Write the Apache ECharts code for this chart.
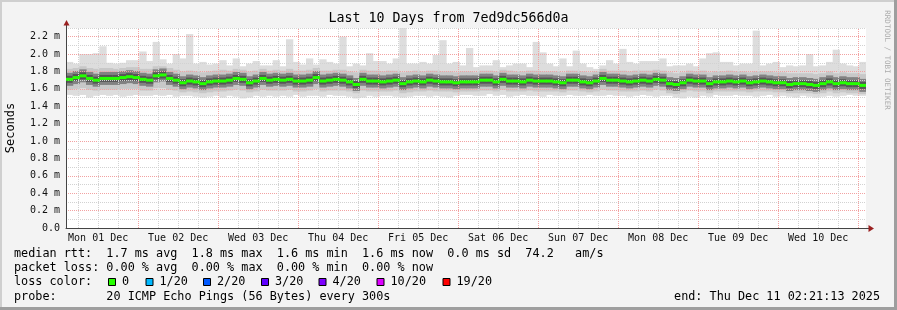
<!DOCTYPE html>
<html>
<head>
<meta charset="utf-8">
<script src="https://cdn.jsdelivr.net/npm/echarts@6/dist/echarts.min.js"></script>
<style>
html, body { margin: 0; padding: 0; background: #f3f3f3; }
#chart { width: 897px; height: 310px; }
</style>
</head>
<body>
<div id="chart"></div>
<script>
// time axis is in hours since Mon 01 Dec 00:00, one value every 2 hours
var startHour = 2 + 21 / 60 + 13 / 3600;   // Dec 01 02:21:13
var stepHours = 2;

var dayLabels = ['Mon 01 Dec', 'Tue 02 Dec', 'Wed 03 Dec', 'Thu 04 Dec', 'Fri 05 Dec',
                 'Sat 06 Dec', 'Sun 07 Dec', 'Mon 08 Dec', 'Tue 09 Dec', 'Wed 10 Dec'];

// median rtt (ms)
var medianRtt = [
 1.71,1.73,1.75,1.72,1.70,1.72,1.72,1.72,1.73,1.74,
 1.73,1.71,1.70,1.75,1.76,1.72,1.70,1.67,1.69,1.68,
 1.66,1.68,1.69,1.69,1.70,1.72,1.71,1.67,1.69,1.72,
 1.70,1.71,1.70,1.71,1.69,1.69,1.70,1.73,1.69,1.70,
 1.71,1.70,1.68,1.65,1.71,1.69,1.69,1.68,1.69,1.70,
 1.66,1.68,1.69,1.68,1.70,1.69,1.68,1.68,1.67,1.68,
 1.68,1.68,1.70,1.70,1.68,1.71,1.69,1.69,1.68,1.70,
 1.69,1.69,1.69,1.68,1.67,1.70,1.70,1.68,1.67,1.69,
 1.72,1.70,1.70,1.69,1.68,1.69,1.70,1.69,1.71,1.70,
 1.66,1.65,1.67,1.70,1.69,1.69,1.66,1.68,1.68,1.69,
 1.68,1.69,1.67,1.68,1.69,1.68,1.67,1.67,1.65,1.66,
 1.66,1.65,1.64,1.66,1.68,1.66,1.67,1.66,1.66,1.64];

// smoke: slowest ping
var smokeMax = [
 1.91,1.89,2.00,2.00,2.01,2.09,1.90,1.89,1.90,1.93,
 1.93,2.03,1.92,2.14,1.94,1.89,2.00,1.95,2.23,1.89,
 1.91,1.88,1.89,1.93,1.87,1.95,1.86,1.89,1.92,1.87,
 1.87,1.93,1.86,2.17,1.91,1.88,1.95,1.88,1.94,1.91,
 1.89,2.20,1.86,1.89,1.87,2.01,1.92,1.92,1.89,1.95,
 2.31,1.89,1.89,1.91,1.89,1.99,2.16,1.89,1.91,1.87,
 2.07,1.85,1.87,1.87,1.93,1.85,1.87,1.89,1.89,1.85,
 2.14,2.02,1.89,1.86,1.95,1.86,2.04,1.89,1.85,1.83,
 1.87,1.93,1.89,2.06,1.91,1.89,1.92,1.92,1.92,1.95,
 1.86,1.87,1.87,1.89,1.86,1.95,2.01,2.02,1.91,1.91,
 1.87,1.89,1.89,2.27,1.87,1.89,1.91,1.85,1.87,1.86,
 1.87,2.00,1.86,1.87,1.91,2.05,1.89,1.87,1.86,1.91];

// smoke: fastest ping
var smokeMin = [
 1.53,1.52,1.53,1.50,1.52,1.53,1.52,1.53,1.51,1.52,
 1.53,1.52,1.52,1.53,1.52,1.53,1.51,1.52,1.52,1.51,
 1.50,1.51,1.52,1.50,1.52,1.51,1.49,1.50,1.52,1.51,
 1.52,1.51,1.52,1.51,1.53,1.51,1.52,1.52,1.51,1.53,
 1.52,1.52,1.51,1.49,1.50,1.52,1.51,1.52,1.52,1.51,
 1.50,1.51,1.52,1.52,1.51,1.52,1.51,1.50,1.52,1.53,
 1.53,1.52,1.52,1.54,1.52,1.53,1.51,1.52,1.53,1.52,
 1.52,1.51,1.53,1.52,1.52,1.53,1.52,1.52,1.53,1.52,
 1.52,1.53,1.52,1.52,1.51,1.52,1.53,1.52,1.51,1.52,
 1.52,1.50,1.49,1.51,1.50,1.52,1.51,1.53,1.52,1.52,
 1.53,1.52,1.52,1.51,1.52,1.53,1.51,1.52,1.51,1.50,
 1.52,1.51,1.50,1.51,1.52,1.51,1.52,1.53,1.52,1.52];

// smoke: outer middle band
var smokeHi2 = [
 1.83,1.84,1.86,1.84,1.83,1.84,1.84,1.83,1.84,1.85,
 1.85,1.83,1.83,1.86,1.86,1.84,1.82,1.80,1.81,1.80,
 1.79,1.80,1.81,1.82,1.81,1.83,1.82,1.80,1.81,1.83,
 1.81,1.82,1.81,1.83,1.81,1.81,1.82,1.84,1.81,1.81,
 1.82,1.82,1.80,1.79,1.82,1.81,1.81,1.80,1.81,1.81,
 1.79,1.80,1.81,1.80,1.81,1.81,1.80,1.80,1.79,1.80,
 1.80,1.79,1.81,1.81,1.80,1.82,1.81,1.80,1.80,1.81,
 1.81,1.80,1.80,1.80,1.79,1.81,1.81,1.80,1.79,1.80,
 1.83,1.81,1.81,1.81,1.80,1.81,1.81,1.81,1.82,1.81,
 1.79,1.78,1.79,1.81,1.80,1.81,1.79,1.80,1.80,1.81,
 1.80,1.80,1.79,1.80,1.80,1.80,1.79,1.79,1.78,1.78,
 1.78,1.78,1.77,1.78,1.80,1.78,1.79,1.78,1.78,1.77];
var smokeLo2 = [
 1.59,1.60,1.61,1.59,1.58,1.59,1.59,1.59,1.60,1.60,
 1.60,1.58,1.58,1.61,1.61,1.59,1.58,1.56,1.57,1.56,
 1.55,1.56,1.57,1.57,1.58,1.59,1.58,1.56,1.57,1.59,
 1.58,1.58,1.58,1.59,1.57,1.57,1.58,1.60,1.57,1.58,
 1.58,1.58,1.57,1.55,1.58,1.57,1.57,1.57,1.57,1.58,
 1.55,1.56,1.57,1.57,1.58,1.57,1.57,1.57,1.56,1.57,
 1.57,1.57,1.58,1.58,1.57,1.59,1.57,1.57,1.57,1.58,
 1.57,1.57,1.57,1.57,1.56,1.58,1.58,1.57,1.56,1.57,
 1.59,1.58,1.58,1.57,1.57,1.57,1.58,1.57,1.59,1.58,
 1.55,1.54,1.56,1.58,1.57,1.57,1.55,1.57,1.57,1.57,
 1.57,1.57,1.56,1.57,1.57,1.57,1.56,1.56,1.55,1.55,
 1.55,1.55,1.54,1.55,1.57,1.55,1.56,1.55,1.55,1.54];

// smoke: inner band
var smokeHi3 = [
 1.76,1.78,1.80,1.77,1.75,1.77,1.77,1.77,1.78,1.79,
 1.78,1.76,1.75,1.80,1.81,1.77,1.75,1.72,1.74,1.73,
 1.71,1.73,1.74,1.74,1.75,1.77,1.76,1.72,1.74,1.77,
 1.75,1.76,1.75,1.76,1.74,1.74,1.75,1.78,1.74,1.75,
 1.76,1.75,1.73,1.70,1.76,1.74,1.74,1.73,1.74,1.75,
 1.71,1.73,1.74,1.73,1.75,1.74,1.73,1.73,1.72,1.73,
 1.73,1.73,1.75,1.75,1.73,1.76,1.74,1.74,1.73,1.75,
 1.74,1.74,1.74,1.73,1.72,1.75,1.75,1.73,1.72,1.74,
 1.77,1.75,1.75,1.74,1.73,1.74,1.75,1.74,1.76,1.75,
 1.71,1.70,1.72,1.75,1.74,1.74,1.71,1.73,1.73,1.74,
 1.73,1.74,1.72,1.73,1.74,1.73,1.72,1.72,1.70,1.71,
 1.71,1.70,1.69,1.71,1.73,1.71,1.72,1.71,1.71,1.69];
var smokeLo3 = [
 1.65,1.67,1.69,1.66,1.64,1.66,1.66,1.66,1.67,1.68,
 1.67,1.65,1.64,1.69,1.70,1.66,1.64,1.61,1.63,1.62,
 1.60,1.62,1.63,1.63,1.64,1.66,1.65,1.61,1.63,1.66,
 1.64,1.65,1.64,1.65,1.63,1.63,1.64,1.67,1.63,1.64,
 1.65,1.64,1.62,1.59,1.65,1.63,1.63,1.62,1.63,1.64,
 1.60,1.62,1.63,1.62,1.64,1.63,1.62,1.62,1.61,1.62,
 1.62,1.62,1.64,1.64,1.62,1.65,1.63,1.63,1.62,1.64,
 1.63,1.63,1.63,1.62,1.61,1.64,1.64,1.62,1.61,1.63,
 1.66,1.64,1.64,1.63,1.62,1.63,1.64,1.63,1.65,1.64,
 1.60,1.59,1.61,1.64,1.63,1.63,1.60,1.62,1.62,1.63,
 1.62,1.63,1.61,1.62,1.63,1.62,1.61,1.61,1.59,1.60,
 1.60,1.59,1.58,1.60,1.62,1.60,1.61,1.60,1.60,1.58];

var lossLabels = ['0', '1/20', '2/20', '3/20', '4/20', '10/20', '19/20'];
var lossColors = ['#26ff00', '#00b8ff', '#0059ff', '#5e00ff', '#7e00ff', '#dd00ff', '#ff0000'];

var MONO = '"DejaVu Sans Mono", monospace';
var LEGEND_FONT = '11.8px ' + MONO;

function stepData(lo, hi) {
    var out = [];
    for (var i = 0; i < lo.length; i++) {
        var t = startHour + i * stepHours;
        out.push([t, t + stepHours, lo[i], hi ? hi[i] : lo[i]]);
    }
    return out;
}

function bandRender(color) {
    return function (params, api) {
        var a = api.coord([api.value(0), api.value(3)]);
        var b = api.coord([api.value(1), api.value(2)]);
        return {
            type: 'rect',
            shape: { x: a[0], y: a[1], width: b[0] - a[0] + 0.6, height: b[1] - a[1] },
            style: { fill: color }
        };
    };
}

function medianRender(layers) {
    return function (params, api) {
        var a = api.coord([api.value(0), api.value(2)]);
        var b = api.coord([api.value(1), api.value(2)]);
        var w = b[0] - a[0] + 0.6;
        var kids = [];
        for (var k = 0; k < layers.length; k++) {
            kids.push({
                type: 'rect',
                shape: { x: a[0], y: a[1] - layers[k][0] / 2, width: w, height: layers[k][0] },
                style: { fill: layers[k][1] }
            });
        }
        return { type: 'group', children: kids };
    };
}

function bandSeries(lo, hi, color) {
    return {
        type: 'custom', clip: true, z: 2, silent: true,
        encode: { x: [0, 1], y: [2, 3] },
        renderItem: bandRender(color),
        data: stepData(lo, hi)
    };
}

// grid line positions (hours)
var majorLines = [], minorLines = [], labelHours = [];
for (var h = 6; h < startHour + 240; h += 6) {
    if (h < startHour) continue;
    if (h % 24 === 0) majorLines.push({ xAxis: h });
    else minorLines.push({ xAxis: h });
}
for (var d = 0; d < dayLabels.length; d++) labelHours.push(12 + 24 * d);

function gridLineSeries(lines, color) {
    return {
        type: 'line', data: [], silent: true,
        markLine: {
            silent: true, symbol: ['none', 'none'], label: { show: false }, z: 5,
            lineStyle: { type: 'dotted', color: color, width: 1 },
            emphasis: { disabled: true },
            data: lines
        }
    };
}

var lossGraphics = [];
var boxX = [108, 145.5, 203, 261, 318.5, 376.5, 442.5];
for (var j = 0; j < lossLabels.length; j++) {
    lossGraphics.push({
        type: 'rect', shape: { x: boxX[j] + 0.5, y: 278.5, width: 7, height: 7 },
        style: { fill: lossColors[j], stroke: '#000', lineWidth: 1 }
    });
    lossGraphics.push({
        type: 'text', x: boxX[j] + 14, y: 282,
        style: { text: lossLabels[j], font: LEGEND_FONT, fill: '#000', align: 'left', verticalAlign: 'middle' }
    });
}

function legendLine(txt, y) {
    return { type: 'text', x: 14, y: y,
        style: { text: txt, font: LEGEND_FONT, fill: '#000', align: 'left', verticalAlign: 'middle' } };
}

var myChart = echarts.init(document.getElementById('chart'));
var option = {
    animation: false,
    backgroundColor: '#f3f3f3',
    grid: { left: 66, top: 28, width: 800, height: 200, show: true, backgroundColor: '#ffffff', borderWidth: 0 },
    xAxis: {
        type: 'value', min: startHour, max: startHour + 240, z: 6,
        axisLine: { show: true, lineStyle: { color: '#444' } },
        axisTick: { show: false },
        splitLine: { show: false },
        axisLabel: {
            customValues: labelHours,
            margin: 5,
            fontFamily: MONO, fontSize: 10, color: '#111',
            formatter: function (v) { return dayLabels[Math.round((v - 12) / 24)]; }
        }
    },
    yAxis: [{
        type: 'value', min: 0, max: 2.3, interval: 0.2, z: 4,
        axisLine: { show: true, lineStyle: { color: '#444' } },
        axisTick: { show: false },
        splitLine: { show: true, showMinLine: false, showMaxLine: false,
            lineStyle: { type: 'dotted', color: '#f2a2a2' } },
        axisLabel: {
            showMaxLabel: false, margin: 6,
            fontFamily: MONO, fontSize: 10, color: '#111',
            formatter: function (v) { return v === 0 ? '0.0' : v.toFixed(1) + ' m'; }
        }
    }, {
        type: 'value', min: 0, max: 2.3, interval: 0.1, z: 3, position: 'left',
        axisLine: { show: false }, axisTick: { show: false }, axisLabel: { show: false },
        splitLine: { show: true, showMinLine: false, lineStyle: { type: 'dotted', color: '#d2d2d2' } }
    }],
    series: [
        bandSeries(smokeMin, smokeMax, '#dddddd'),
        bandSeries(smokeLo2, smokeHi2, '#c8c8c8'),
        bandSeries(smokeLo3, smokeHi3, '#ababab'),
        {
            type: 'custom', clip: true, z: 2, silent: true,
            encode: { x: [0, 1], y: 2 },
            renderItem: medianRender([[13, '#828282'], [7, '#555555']]),
            data: stepData(medianRtt)
        },
        gridLineSeries(minorLines, '#d2d2d2'),
        gridLineSeries(majorLines, '#f2a2a2'),
        {
            type: 'custom', clip: true, z: 10, silent: true,
            encode: { x: [0, 1], y: 2 },
            renderItem: medianRender([[3, '#26ff00']]),
            data: stepData(medianRtt)
        }
    ],
    graphic: [
        { type: 'rect', shape: { x: 0, y: 0, width: 897, height: 2 }, style: { fill: '#cfcfcf' }, silent: true },
        { type: 'rect', shape: { x: 0, y: 0, width: 2, height: 310 }, style: { fill: '#cfcfcf' }, silent: true },
        { type: 'rect', shape: { x: 0, y: 307, width: 897, height: 3 }, style: { fill: '#9e9e9e' }, silent: true },
        { type: 'rect', shape: { x: 894, y: 0, width: 3, height: 310 }, style: { fill: '#9e9e9e' }, silent: true },
        { type: 'line', shape: { x1: 66.5, y1: 28, x2: 66.5, y2: 24 }, style: { stroke: '#444', lineWidth: 1 } },
        { type: 'line', shape: { x1: 866, y1: 228.5, x2: 869, y2: 228.5 }, style: { stroke: '#444', lineWidth: 1 } },
        { type: 'polygon', shape: { points: [[63.5, 25.5], [66.5, 20], [69.5, 25.5]] }, style: { fill: '#9a2020' } },
        { type: 'polygon', shape: { points: [[868.5, 225], [874, 228.5], [868.5, 232]] }, style: { fill: '#9a2020' } },
        { type: 'text', x: 448.5, y: 19,
          style: { text: 'Last 10 Days from 7ed9dc566d0a', font: '13.3px ' + MONO, fill: '#000', align: 'center', verticalAlign: 'middle' } },
        { type: 'text', x: 11, y: 128, rotation: Math.PI / 2,
          style: { text: 'Seconds', font: '12px ' + MONO, fill: '#000', align: 'center', verticalAlign: 'middle' } },
        { type: 'text', x: 887, y: 60, rotation: -Math.PI / 2,
          style: { text: 'RRDTOOL / TOBI OETIKER', font: '7.5px ' + MONO, fill: '#ababab', align: 'center', verticalAlign: 'middle' } },
        legendLine('median rtt:  1.7 ms avg  1.8 ms max  1.6 ms min  1.6 ms now  0.0 ms sd  74.2   am/s', 254),
        legendLine('packet loss: 0.00 % avg  0.00 % max  0.00 % min  0.00 % now', 268),
        legendLine('loss color:', 282),
        legendLine('probe:       20 ICMP Echo Pings (56 Bytes) every 300s', 296.5),
        { type: 'text', x: 880, y: 296.5,
          style: { text: 'end: Thu Dec 11 02:21:13 2025', font: LEGEND_FONT, fill: '#000', align: 'right', verticalAlign: 'middle' } }
    ].concat(lossGraphics)
};
myChart.setOption(option);
</script>
</body>
</html>
